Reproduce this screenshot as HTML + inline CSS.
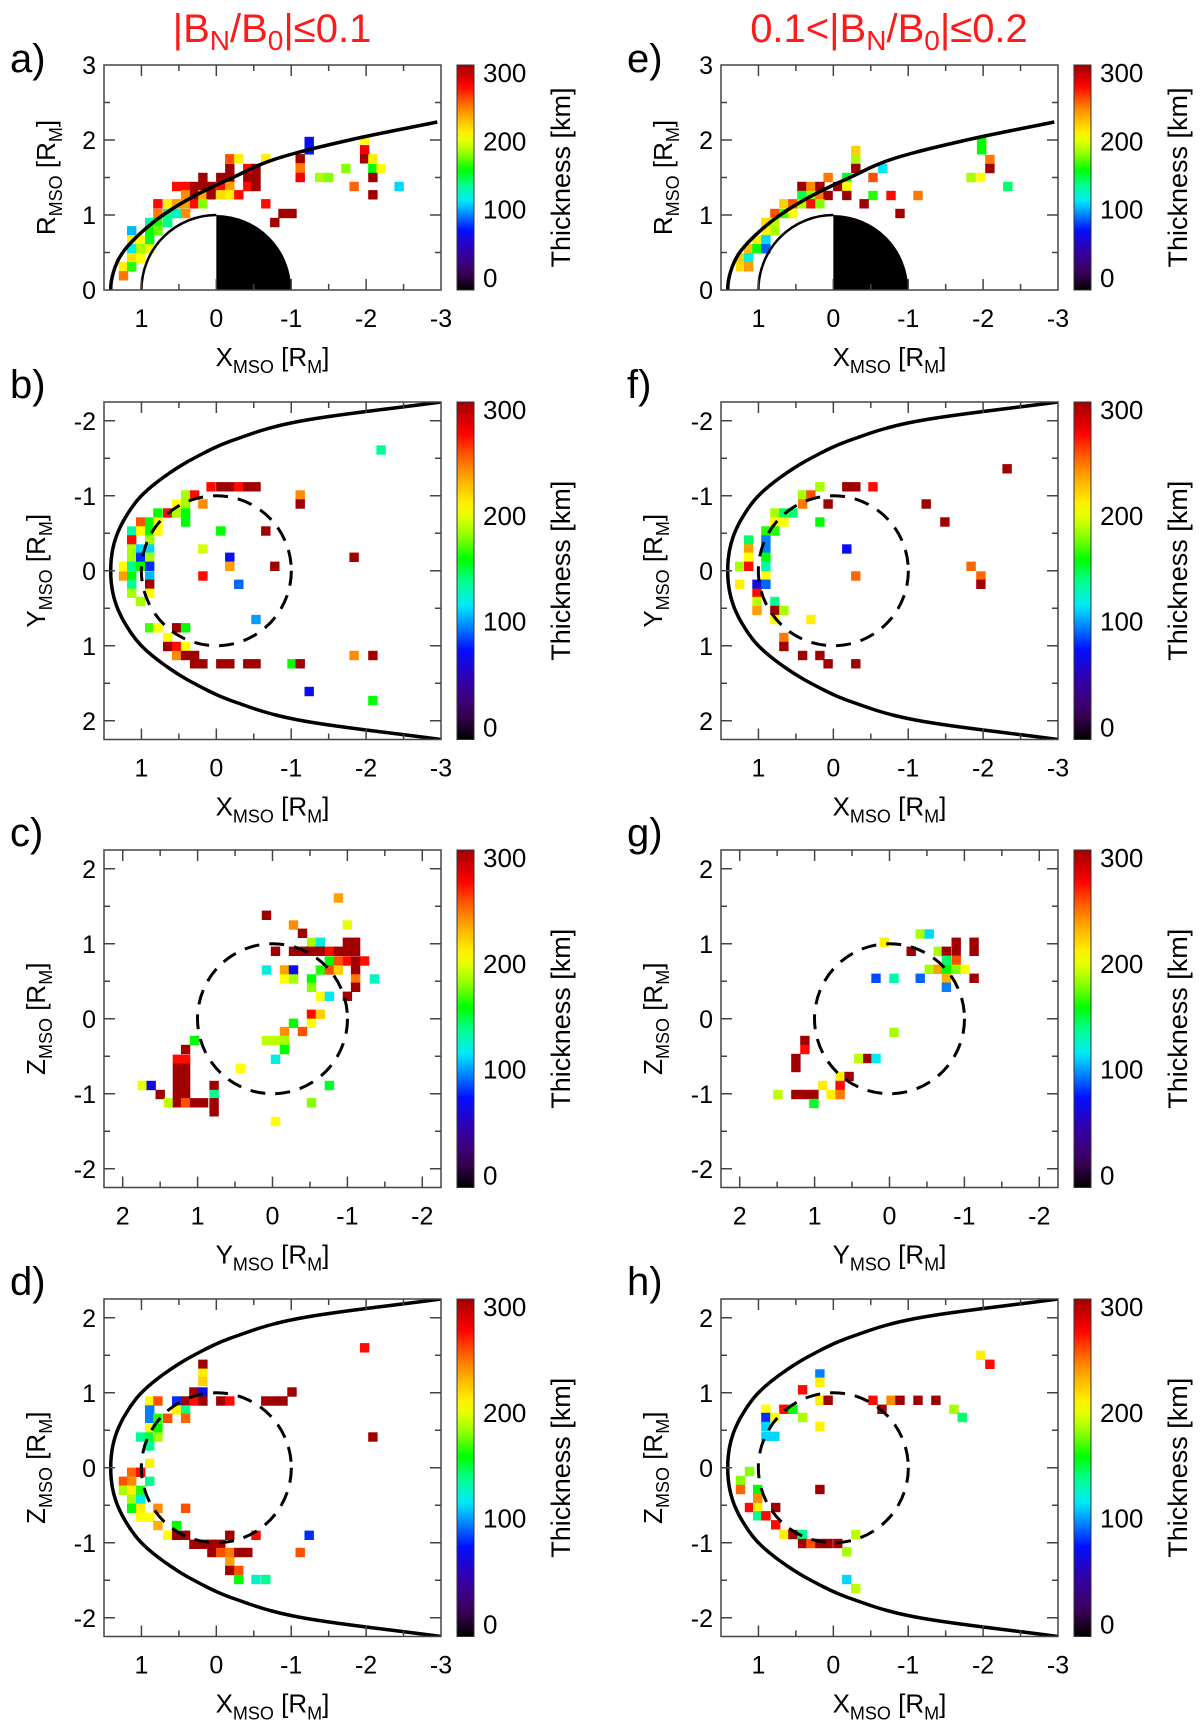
<!DOCTYPE html>
<html><head><meta charset="utf-8">
<style>
html,body{margin:0;padding:0;background:#fff;}
svg{display:block;font-family:"Liberation Sans",Arial,sans-serif;}
</style></head>
<body>
<svg id="fig" xmlns="http://www.w3.org/2000/svg" width="1200" height="1725" viewBox="0 0 1200 1725">
<rect x="0" y="0" width="1200" height="1725" fill="#fff"/>
<defs id="defs"></defs>
<text x="272" y="42" text-anchor="middle" font-size="40" fill="#ff1a1a">|B<tspan font-size="28" dy="8">N</tspan><tspan dy="-8">/B</tspan><tspan font-size="28" dy="8">0</tspan><tspan dy="-8">|≤0.1</tspan></text>
<text x="889" y="42" text-anchor="middle" font-size="40" fill="#ff1a1a">0.1&lt;|B<tspan font-size="28" dy="8">N</tspan><tspan dy="-8">/B</tspan><tspan font-size="28" dy="8">0</tspan><tspan dy="-8">|≤0.2</tspan></text>
<g id="plots"></g>
</svg>
<script>
// ---- data: cell centres (R_M) and thickness values (km) ----
const aX=[-1.24,-1.24,-1.98,-1.98,-1.98,-2.09,-2.09,-2.20,-2.09,-2.09,-1.84,-2.44,-1.73,-1.38,-1.50,-1.12,-1.12,-1.12,-0.18,-0.30,-0.66,-0.18,-0.42,-0.53,0.18,-0.06,-0.18,-0.42,-0.53,0.53,0.41,0.29,0.18,0.07,-0.06,-0.18,-0.42,-0.53,0.41,0.29,0.18,0.07,-0.06,-0.18,-0.30,0.78,0.65,0.53,0.41,0.29,0.18,-0.66,0.78,0.65,0.53,0.41,-0.89,-1.01,0.89,0.78,0.65,-0.78,1.13,0.89,0.78,1.13,1.01,0.89,1.13,1.01,0.89,1.13,1.01,1.24,1.13,1.24];
const aY=[1.98,1.87,2.0,1.87,1.75,1.75,1.62,1.62,1.50,1.27,1.38,1.38,1.62,1.50,1.50,1.62,1.50,1.75,1.75,1.75,1.75,1.62,1.62,1.62,1.50,1.50,1.50,1.50,1.50,1.38,1.38,1.38,1.38,1.38,1.38,1.38,1.38,1.38,1.27,1.27,1.27,1.27,1.27,1.27,1.27,1.15,1.15,1.15,1.15,1.15,1.15,1.15,1.02,1.02,1.02,1.02,1.02,1.02,0.90,0.90,0.90,0.90,0.79,0.79,0.79,0.67,0.67,0.67,0.55,0.55,0.55,0.42,0.42,0.31,0.31,0.19];
const aV=[75,80,205,275,300,210,160,205,300,300,250,115,180,185,180,245,275,300,255,210,210,300,270,300,300,300,300,300,300,270,270,300,300,300,270,235,270,300,240,300,230,300,215,210,270,270,210,235,235,270,180,270,245,140,130,240,300,300,135,165,140,300,110,160,175,210,205,155,120,185,200,215,205,210,165,245];

const bX=[-2.20,0.07,-0.06,-0.18,-0.30,-0.42,-0.53,-1.12,-1.12,0.41,0.29,0.53,0.41,0.18,0.78,0.65,0.53,0.41,1.01,0.89,0.78,0.41,1.13,1.01,0.89,0.78,-0.06,-0.66,1.13,0.89,1.13,1.01,0.89,0.18,1.13,1.01,0.89,-0.18,-1.84,1.24,1.13,1.01,0.89,-0.18,-0.78,1.24,1.13,0.89,0.18,1.13,0.89,-0.30,1.13,0.89,1.01,-0.53,0.89,0.78,0.53,0.41,0.65,0.65,0.53,0.41,0.53,0.41,0.29,-1.84,-2.09,0.29,0.18,-0.06,-0.18,-0.42,-0.53,-1.01,-1.12,-1.24,-2.09];
const bY=[-1.61,-1.12,-1.12,-1.12,-1.12,-1.12,-1.12,-1.01,-0.89,-1.01,-1.01,-0.89,-0.89,-0.89,-0.77,-0.77,-0.77,-0.77,-0.65,-0.65,-0.65,-0.65,-0.53,-0.53,-0.53,-0.53,-0.53,-0.53,-0.41,-0.41,-0.29,-0.29,-0.29,-0.29,-0.18,-0.18,-0.18,-0.18,-0.18,-0.06,-0.06,-0.06,-0.06,-0.06,-0.06,0.07,0.07,0.07,0.07,0.18,0.18,0.18,0.30,0.30,0.41,0.65,0.76,0.76,0.76,0.76,0.89,1.01,1.01,1.01,1.13,1.13,1.13,1.13,1.13,1.24,1.24,1.24,1.24,1.24,1.24,1.24,1.24,1.61,1.73];
const bV=[140,270,300,300,270,300,300,240,300,185,270,205,185,240,160,270,185,160,255,160,205,160,135,205,160,205,160,300,270,185,185,115,115,195,185,85,185,75,300,205,140,160,85,235,300,235,160,110,270,140,300,95,185,205,185,105,170,205,300,160,205,300,270,205,240,300,300,240,300,300,300,300,300,300,300,160,300,75,160];

const cX=[-0.88,0.08,-0.28,-1.0,-0.40,-0.52,-0.64,-1.0,-1.11,-0.04,-0.28,-0.40,-0.52,-0.64,-0.76,-0.88,-1.0,-1.11,-0.76,-0.88,-1.0,-1.11,-1.23,0.08,-0.16,-0.28,-0.64,-0.76,-0.88,-1.11,-0.16,-0.28,-0.52,-1.11,-1.36,-0.52,-1.11,-0.64,-0.76,-1.0,-0.52,-0.64,-0.28,-0.52,-0.16,-0.40,1.04,0.08,-0.04,-0.16,1.16,-0.16,1.27,1.16,-0.04,1.27,1.16,0.43,1.27,1.16,1.74,1.62,1.27,1.16,0.78,-0.76,1.50,1.27,1.16,0.78,1.39,1.27,1.16,1.04,0.92,0.78,-0.52,0.78,-0.04];
const cY=[1.61,1.38,1.25,1.25,1.14,1.02,1.02,1.02,1.02,0.90,0.90,0.90,0.90,0.90,0.90,0.90,0.90,0.90,0.77,0.77,0.77,0.77,0.77,0.65,0.65,0.65,0.65,0.65,0.65,0.65,0.53,0.53,0.53,0.53,0.53,0.42,0.42,0.30,0.30,0.30,0.06,0.06,-0.06,-0.06,-0.17,-0.17,-0.29,-0.29,-0.29,-0.29,-0.41,-0.41,-0.54,-0.54,-0.54,-0.66,-0.66,-0.66,-0.77,-0.77,-0.89,-0.89,-0.89,-0.89,-0.89,-0.89,-1.01,-1.01,-1.01,-1.01,-1.12,-1.12,-1.12,-1.12,-1.12,-1.12,-1.12,-1.24,-1.37];
const cV=[235,300,240,200,300,185,125,300,300,300,300,300,300,300,270,300,300,300,160,255,270,300,270,125,235,75,165,255,220,300,205,185,160,245,130,180,300,205,120,300,270,220,160,205,240,255,160,190,190,185,300,160,270,270,125,300,300,205,300,300,200,70,300,300,300,155,300,300,300,140,190,300,255,300,300,300,180,300,205];

const dX=[-1.98,0.18,0.18,0.18,0.30,0.18,-1.01,0.89,0.78,0.53,0.41,0.30,0.18,-0.06,-0.18,-0.66,-0.78,-0.89,0.89,0.53,0.41,0.89,0.78,0.65,0.41,0.89,0.78,1.01,0.89,0.78,-2.09,0.89,0.89,1.13,1.01,1.24,1.13,0.89,1.24,1.13,1.01,1.13,1.01,1.13,1.01,0.78,0.41,1.01,0.89,0.78,0.53,0.65,0.53,0.41,-0.18,-0.53,-1.24,0.30,0.18,0.06,-0.06,0.06,-0.06,-0.18,-0.30,-0.42,-1.12,-0.18,-0.18,-0.30,-0.30,-0.53,-0.66];
const dY=[1.60,1.38,1.26,1.15,1.01,1.01,1.01,0.89,0.89,0.89,0.89,0.89,0.89,0.89,0.89,0.89,0.89,0.89,0.77,0.77,0.77,0.66,0.66,0.66,0.66,0.53,0.53,0.41,0.41,0.41,0.41,0.29,0.06,-0.06,-0.06,-0.18,-0.18,-0.18,-0.30,-0.30,-0.30,-0.42,-0.42,-0.54,-0.54,-0.54,-0.54,-0.66,-0.66,-0.77,-0.77,-0.90,-0.90,-0.90,-0.90,-0.90,-0.90,-1.02,-1.02,-1.02,-1.02,-1.13,-1.13,-1.13,-1.13,-1.13,-1.13,-1.25,-1.37,-1.37,-1.49,-1.49,-1.49];
const dV=[270,300,210,220,300,75,300,205,255,85,300,270,300,300,270,300,300,300,100,210,140,100,165,255,250,205,160,140,150,185,300,140,210,250,270,255,240,140,185,210,165,185,125,160,210,240,255,205,205,230,160,205,300,300,300,270,85,300,300,300,300,300,255,245,300,300,255,235,300,255,160,130,140];

const eX=[-1.98,-1.98,-2.09,-2.09,-1.84,-1.97,-2.33,-0.30,-0.30,-0.30,-0.66,0.07,-0.18,-0.53,0.42,0.30,0.18,-0.06,-0.18,0.42,0.30,0.18,0.07,-0.18,-0.53,-0.77,-1.13,0.66,0.54,0.42,0.30,0.18,-0.41,0.78,0.66,0.54,-0.89,0.90,0.78,0.90,0.78,1.02,0.90,1.13,1.02,0.90,1.24,1.13,1.24,1.13];
const eY=[1.98,1.87,1.74,1.62,1.50,1.50,1.38,1.86,1.74,1.62,1.62,1.50,1.50,1.50,1.38,1.38,1.38,1.38,1.38,1.26,1.26,1.26,1.26,1.26,1.26,1.26,1.26,1.15,1.15,1.15,1.15,1.15,1.15,1.02,1.02,1.02,1.02,0.90,0.90,0.79,0.79,0.67,0.67,0.55,0.55,0.55,0.43,0.43,0.31,0.31];
const eV=[160,160,245,300,185,205,145,220,185,300,120,245,155,255,300,240,300,300,205,150,180,245,300,300,165,270,245,220,255,185,270,180,300,255,170,205,300,215,190,210,185,210,115,225,160,95,220,125,215,235];

const fX=[-2.32,-0.18,-0.30,-0.53,0.18,0.41,0.30,0.41,0.07,-1.24,0.78,0.66,0.54,0.78,0.66,0.18,-1.49,0.90,0.78,1.13,0.90,1.13,0.90,-0.18,1.13,0.90,1.25,1.13,0.90,-1.84,0.90,-0.30,-1.97,1.25,1.02,0.90,-1.97,1.02,1.02,0.78,1.02,0.78,0.66,0.78,0.30,0.66,0.66,0.41,0.18,0.07,-0.30];
const fY=[-1.36,-1.12,-1.12,-1.12,-1.12,-1.01,-1.01,-0.89,-0.89,-0.89,-0.77,-0.77,-0.77,-0.65,-0.65,-0.65,-0.65,-0.53,-0.53,-0.41,-0.41,-0.29,-0.29,-0.29,-0.18,-0.18,-0.06,-0.06,-0.06,-0.06,0.07,0.07,0.07,0.18,0.18,0.18,0.18,0.30,0.41,0.41,0.53,0.53,0.53,0.65,0.65,0.89,1.01,1.13,1.13,1.24,1.24];
const fV=[300,300,300,270,185,185,255,245,300,300,185,145,145,205,205,160,300,165,165,145,100,235,100,75,205,160,185,270,135,250,205,250,250,210,70,95,300,270,190,140,235,300,185,205,210,245,300,300,300,300,300];

const gX=[-0.41,-0.53,0.07,-0.89,-1.13,-0.29,-0.65,-0.76,-0.89,-1.13,-0.76,-0.89,-0.53,-0.65,-0.76,-0.89,-1.01,0.18,-0.06,-0.41,-0.76,-1.13,-0.76,-0.06,1.13,1.13,1.25,0.41,0.29,0.18,1.25,0.66,0.54,0.89,0.66,1.49,1.25,1.13,1.01,0.78,0.66,1.01];
const gY=[1.13,1.13,1.02,1.02,1.02,0.90,0.90,0.90,0.90,0.90,0.78,0.78,0.66,0.66,0.66,0.66,0.66,0.54,0.54,0.54,0.54,0.54,0.42,-0.18,-0.29,-0.41,-0.53,-0.53,-0.53,-0.53,-0.65,-0.77,-0.77,-0.89,-0.89,-1.01,-1.01,-1.01,-1.01,-1.01,-1.01,-1.13];
const gV=[185,115,210,300,300,300,185,300,300,300,145,255,185,235,160,180,205,90,135,95,230,300,100,185,300,270,300,190,300,120,300,210,300,210,270,190,300,300,300,210,245,155];

const hX=[-1.97,-2.09,0.18,0.18,0.41,0.18,0.07,-0.53,-0.77,-0.89,-1.13,-1.37,0.90,0.66,0.54,-0.65,-1.61,0.90,0.78,0.41,-1.72,0.90,0.18,0.90,0.78,1.12,1.24,1.24,1.01,0.18,1.01,1.12,1.01,0.77,1.01,0.90,0.77,0.66,0.54,0.41,-0.30,0.41,0.30,0.18,0.07,-0.06,-0.18,-0.18,-0.30];
const hY=[1.50,1.38,1.25,1.14,1.04,0.90,0.90,0.90,0.90,0.90,0.90,0.90,0.78,0.78,0.78,0.78,0.78,0.67,0.67,0.67,0.67,0.55,0.55,0.42,0.42,-0.05,-0.17,-0.29,-0.29,-0.29,-0.41,-0.53,-0.53,-0.53,-0.64,-0.64,-0.76,-0.89,-0.89,-0.89,-0.89,-1.01,-1.01,-1.01,-1.01,-1.01,-1.12,-1.49,-1.61];
const hV=[210,270,100,210,270,210,300,270,240,300,300,300,205,270,160,300,185,85,205,185,145,115,210,115,115,180,180,250,160,300,240,270,210,300,140,270,270,210,300,140,190,300,255,300,300,300,185,115,190];

// colour scale and tick labels
const cbTicks=[0,100,200,300];
const cmapV=[0,25,55,80,100,118,140,160,185,205,235,255,272,300];
const cmapC=['#000000','#400060','#3000b0','#0010ff','#0080ff','#00e8ff','#00ff90','#00ff00','#a8ff00','#ffff00','#ffa000','#ff5000','#ff0000','#a00000'];
// boundary model curves: x at uniform radial steps of 0.25 R_M (r = 0 .. 2.25)
const mpAx=[1.41,1.37,1.25,1.02,0.71,0.30,-0.22,-0.80,-1.78,-3.0];
const mpBx=[1.41,1.39,1.32,1.19,1.0,0.70,0.30,-0.25,-1.15,-3.0];
const mpStep=0.25;

const NS='http://www.w3.org/2000/svg';
const root=document.getElementById('plots');
function mk(parent,tag,attrs,text){const e=document.createElementNS(NS,tag);for(const k in attrs)e.setAttribute(k,attrs[k]);if(text!==undefined)e.textContent=text;parent.appendChild(e);return e;}
function hex(c){return [parseInt(c.slice(1,3),16),parseInt(c.slice(3,5),16),parseInt(c.slice(5,7),16)];}
function cmap(v){v=Math.max(0,Math.min(300,v));for(let i=0;i<cmapV.length-1;i++){if(v<=cmapV[i+1]){const t=(v-cmapV[i])/(cmapV[i+1]-cmapV[i]);const a=hex(cmapC[i]),b=hex(cmapC[i+1]);return 'rgb('+a.map((q,j)=>Math.round(q+(b[j]-q)*t)).join(',')+')';}}return cmapC[cmapC.length-1];}
// Catmull-Rom interpolation of x(r) on uniform grid
function xOfR(arr,r){const n=arr.length;let u=r/mpStep;let i=Math.min(Math.floor(u),n-2);const t=u-i;
 const p1=arr[i],p2=arr[i+1];const p0=i>0?arr[i-1]:arr[1];const p3=i+2<n?arr[i+2]:2*arr[n-1]-arr[n-2];
 return 0.5*((2*p1)+(-p0+p2)*t+(2*p0-5*p1+4*p2-p3)*t*t+(-p0+3*p1-3*p2+p3)*t*t*t);}

const defs=document.getElementById('defs');
const grad=mk(defs,'linearGradient',{id:'cbgrad',x1:'0',y1:'1',x2:'0',y2:'0'});
for(let v=0;v<=300;v+=10){mk(grad,'stop',{offset:(v/300).toFixed(3),'stop-color':cmap(v)});}

const panels=[
 {id:'a',L:104,T:65,H:225,x0:1.5,x1:-3,y0:3,y1:0,kind:'cyl',xl:'X',yl:'R',lab:'a)',ylx:46,X:aX,Y:aY,V:aV},
 {id:'b',L:104,T:402,H:337.5,x0:1.5,x1:-3,y0:-2.25,y1:2.25,kind:'ms',xl:'X',yl:'Y',lab:'b)',ylx:36,X:bX,Y:bY,V:bV},
 {id:'c',L:104,T:850,H:337.5,x0:2.25,x1:-2.25,y0:2.25,y1:-2.25,kind:'yz',xl:'Y',yl:'Z',lab:'c)',ylx:36,X:cX,Y:cY,V:cV},
 {id:'d',L:104,T:1299,H:337.5,x0:1.5,x1:-3,y0:2.25,y1:-2.25,kind:'ms',xl:'X',yl:'Z',lab:'d)',ylx:36,X:dX,Y:dY,V:dV},
 {id:'e',L:721,T:65,H:225,x0:1.5,x1:-3,y0:3,y1:0,kind:'cyl',xl:'X',yl:'R',lab:'e)',ylx:663,X:eX,Y:eY,V:eV},
 {id:'f',L:721,T:402,H:337.5,x0:1.5,x1:-3,y0:-2.25,y1:2.25,kind:'ms',xl:'X',yl:'Y',lab:'f)',ylx:653,X:fX,Y:fY,V:fV},
 {id:'g',L:721,T:850,H:337.5,x0:2.25,x1:-2.25,y0:2.25,y1:-2.25,kind:'yz',xl:'Y',yl:'Z',lab:'g)',ylx:653,X:gX,Y:gY,V:gV},
 {id:'h',L:721,T:1299,H:337.5,x0:1.5,x1:-3,y0:2.25,y1:-2.25,kind:'ms',xl:'X',yl:'Z',lab:'h)',ylx:653,X:hX,Y:hY,V:hV}
];
const W=337, CELL=0.125;

panels.forEach(p=>{
 const sx=v=>p.L+(v-p.x0)/(p.x1-p.x0)*W;
 const sy=v=>p.T+(v-p.y0)/(p.y1-p.y0)*p.H;
 const g=mk(root,'g',{});
 
 
 const cp=mk(defs,'clipPath',{id:'clip-'+p.id});
 mk(cp,'rect',{x:p.L,y:p.T,width:W,height:p.H});
 const cg=mk(g,'g',{'clip-path':'url(#clip-'+p.id+')'});
 
 
 const pxs=CELL*75;
 for(let i=0;i<p.X.length;i++){
  const r=mk(cg,'rect',{x:(sx(p.X[i])-pxs/2).toFixed(1),y:(sy(p.Y[i])-pxs/2).toFixed(1),width:pxs.toFixed(1),height:pxs.toFixed(1),fill:cmap(p.V[i])});
  
  
 }
 const og=mk(g,'g',{'clip-path':'url(#clip-'+p.id+')'});
 
 
 const rMax=mpStep*(mpAx.length-1);
 if(p.kind==='cyl'){
  const pl=mk(og,'path',{d:`M${sx(0)},${sy(0)} L${sx(0)},${sy(1)} A75,75 0 0 1 ${sx(-1)},${sy(0)} Z`,fill:'#000'});
  
  
  const ar=mk(og,'path',{d:`M${sx(1)},${sy(0)} A75,75 0 0 1 ${sx(0)},${sy(1)}`,fill:'none',stroke:'#000','stroke-width':2.5});
  
  
  let d='';
  for(let r=0;r<=rMax+1e-9;r+=0.02){d+=(d?' L':'M')+sx(xOfR(mpAx,r)).toFixed(1)+','+sy(r).toFixed(1);}
  const mp=mk(og,'path',{d:d,fill:'none',stroke:'#000','stroke-width':3.5});
  
  
 } else {
  if(p.kind==='ms'){
   let d='';
   for(let r=-rMax;r<=rMax+1e-9;r+=0.02){const rr=Math.min(Math.abs(r),rMax);d+=(d?' L':'M')+sx(xOfR(mpBx,rr)).toFixed(1)+','+sy(r).toFixed(1);}
   const mp=mk(og,'path',{d:d,fill:'none',stroke:'#000','stroke-width':3.5});
   
   
  }
  const c=mk(og,'circle',{cx:sx(0),cy:sy(0),r:75,fill:'none',stroke:'#000','stroke-width':3,'stroke-dasharray':'15 10'});
  
  
 }
 const fr=mk(g,'rect',{x:p.L,y:p.T,width:W,height:p.H,fill:'none',stroke:'#444','stroke-width':1.5});
 
 
 const tg=mk(g,'g',{stroke:'#444','stroke-width':1.5});
 
 
 const xmin=Math.min(p.x0,p.x1),xmax=Math.max(p.x0,p.x1),ymin=Math.min(p.y0,p.y1),ymax=Math.max(p.y0,p.y1);
 const B=p.T+p.H,R=p.L+W;
 for(let v=Math.ceil(xmin*2)/2;v<=xmax+1e-9;v+=0.5){
  const X=sx(v); if(X<p.L+1||X>R-1)continue;
  const len=Number.isInteger(v)?11:6;
  mk(tg,'line',{x1:X,y1:B,x2:X,y2:B-len});mk(tg,'line',{x1:X,y1:p.T,x2:X,y2:p.T+len});
 }
 for(let v=Math.ceil(ymin*2)/2;v<=ymax+1e-9;v+=0.5){
  const Y=sy(v); if(Y<p.T+1||Y>B-1)continue;
  const len=Number.isInteger(v)?11:6;
  mk(tg,'line',{x1:p.L,y1:Y,x2:p.L+len,y2:Y});mk(tg,'line',{x1:R,y1:Y,x2:R-len,y2:Y});
 }
 for(let v=Math.ceil(xmin);v<=Math.floor(xmax);v++){
  const t=mk(g,'text',{x:sx(v),y:B+37,'text-anchor':'middle','font-size':25},String(v));
  
  
 }
 for(let v=Math.ceil(ymin);v<=Math.floor(ymax);v++){
  const t=mk(g,'text',{x:p.L-8,y:sy(v)+9,'text-anchor':'end','font-size':25},String(v));
  
  
 }
 const xt=mk(g,'text',{x:p.L+W/2,y:B+76,'text-anchor':'middle','font-size':26});
 
 
 xt.innerHTML=p.xl+'<tspan font-size="18" dy="7">MSO</tspan><tspan dy="-7"> [R</tspan><tspan font-size="18" dy="7">M</tspan><tspan dy="-7">]</tspan>';
 const cy=p.T+p.H/2;
 const yt=mk(g,'text',{x:p.ylx,y:cy,'text-anchor':'middle','font-size':26,transform:`rotate(-90 ${p.ylx} ${cy})`,dy:'9'});
 
 
 yt.innerHTML=p.yl+'<tspan font-size="18" dy="7">MSO</tspan><tspan dy="-7"> [R</tspan><tspan font-size="18" dy="7">M</tspan><tspan dy="-7">]</tspan>';
 const lb=mk(g,'text',{x:p.L-94,y:p.T+(p.kind==='cyl'?7:-4),'font-size':40},p.lab);
 
 
 const cbx=R+16;
 const cb=mk(g,'rect',{x:cbx,y:p.T,width:17,height:p.H,fill:'url(#cbgrad)',stroke:'#333','stroke-width':1});
 
 
 cbTicks.forEach(v=>{
  const yy=p.T+8+(300-v)/300*(p.H-20);
  const t=mk(g,'text',{x:cbx+26,y:yy+9,'font-size':26},String(v));
  
  
 });
 const tx=R+120;
 const th=mk(g,'text',{x:tx,y:cy,'text-anchor':'middle','font-size':27,transform:`rotate(-90 ${tx} ${cy})`,dy:'9'},'Thickness [km]');
 
 
});
</script>
</body></html>
